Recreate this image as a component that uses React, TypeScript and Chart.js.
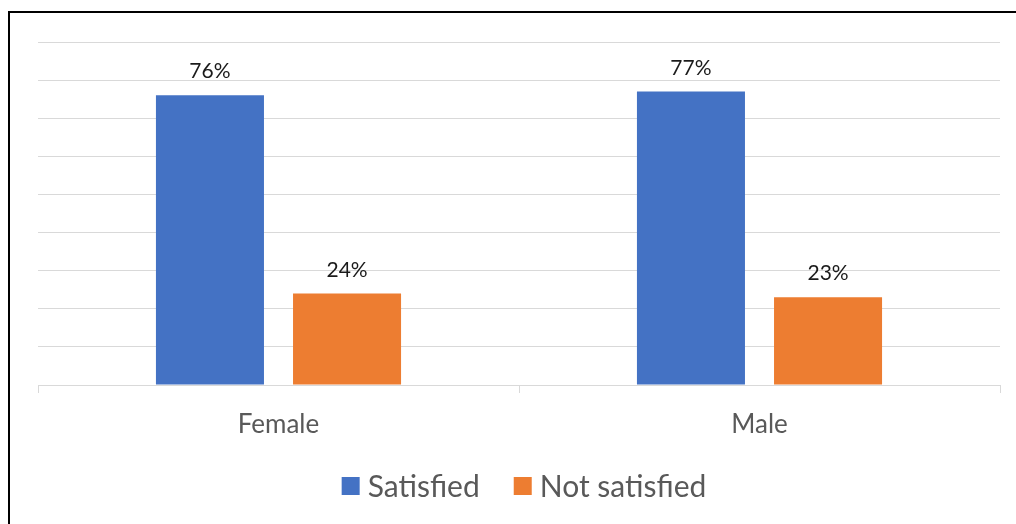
import React, { useEffect, useRef } from "react";
import { Chart, registerables } from "chart.js";

Chart.register(...registerables);

const categories = ["Female", "Male"];
const satisfied = [76, 77];
const notSatisfied = [24, 23];
const seriesNames = ["Satisfied", "Not satisfied"];
const seriesColors = ["#4472C4", "#ED7D31"];
const yMax = 90;
const yStep = 10;

const FONT = "Lato, 'Open Sans', sans-serif";

// Writes each bar's percentage just above its top
const valueLabels = {
  id: "valueLabels",
  afterDatasetsDraw(chart: any) {
    const { ctx } = chart;
    ctx.save();
    ctx.font = `21px ${FONT}`;
    ctx.fillStyle = "#1a1a1a";
    ctx.textAlign = "center";
    ctx.textBaseline = "alphabetic";
    chart.data.datasets.forEach((ds: any, i: number) => {
      const meta = chart.getDatasetMeta(i);
      meta.data.forEach((bar: any, j: number) => {
        ctx.fillText(`${ds.data[j]}%`, bar.x, bar.y - 17);
      });
    });
    ctx.restore();
  },
};

// Legend row under the category labels: square swatch followed by the series name
const bottomLegend = {
  id: "bottomLegend",
  afterDraw(chart: any) {
    const { ctx, chartArea } = chart;
    const box = 18;
    const textGap = 8;
    const itemGap = 34;
    ctx.save();
    ctx.font = `30px ${FONT}`;
    const items = chart.data.datasets.map((ds: any) => ({
      label: ds.label,
      color: ds.backgroundColor,
      w: ctx.measureText(ds.label).width,
    }));
    const total =
      items.reduce((s: number, it: any) => s + box + textGap + it.w, 0) +
      itemGap * (items.length - 1);
    const cx = (chartArea.left + chartArea.right) / 2 + 5;
    const cy = chartArea.bottom + 101;
    let x = cx - total / 2;
    ctx.textBaseline = "middle";
    ctx.textAlign = "left";
    items.forEach((it: any) => {
      ctx.fillStyle = it.color;
      ctx.fillRect(x, cy - box / 2, box, box);
      x += box + textGap;
      ctx.fillStyle = "#595959";
      ctx.fillText(it.label, x, cy + 1);
      x += it.w + itemGap;
    });
    ctx.restore();
  },
};

export default function App() {
  const canvasRef = useRef<HTMLCanvasElement | null>(null);

  useEffect(() => {
    if (!canvasRef.current) return;
    const chart = new Chart(canvasRef.current, {
      type: "bar",
      data: {
        labels: categories,
        datasets: [
          {
            label: seriesNames[0],
            data: satisfied,
            backgroundColor: seriesColors[0],
            categoryPercentage: 0.57,
            barPercentage: 0.788,
          },
          {
            label: seriesNames[1],
            data: notSatisfied,
            backgroundColor: seriesColors[1],
            categoryPercentage: 0.57,
            barPercentage: 0.788,
          },
        ],
      },
      options: {
        responsive: false,
        animation: false,
        layout: { padding: { left: 38, right: 16, top: 42, bottom: 89 } },
        plugins: {
          legend: { display: false },
          tooltip: { enabled: false },
        },
        scales: {
          x: {
            grid: {
              display: true,
              drawOnChartArea: false,
              drawTicks: true,
              tickLength: 8,
              color: "#d9d9d9",
              offset: true,
            },
            border: { display: true, color: "#d9d9d9", width: 1 },
            ticks: {
              color: "#595959",
              font: { family: FONT, size: 26 },
              padding: 16,
            },
            afterFit(scale: any) {
              scale.height = 50;
            },
          },
          y: {
            min: 0,
            max: yMax,
            ticks: { display: false, stepSize: yStep },
            grid: { color: "#d9d9d9", lineWidth: 1, drawTicks: false },
            border: { display: false },
          },
        },
      },
      plugins: [valueLabels, bottomLegend],
    });
    return () => chart.destroy();
  }, []);

  return (
    <div
      style={{
        position: "fixed",
        left: 0,
        top: 0,
        width: 1016,
        height: 524,
        overflow: "hidden",
        background: "#fff",
      }}
    >
      <canvas
        ref={canvasRef}
        width={1016}
        height={524}
        style={{ position: "absolute", left: 0, top: 0, width: 1016, height: 524 }}
      />
      <div
        style={{
          position: "absolute",
          left: 8,
          top: 11,
          width: 1100,
          height: 600,
          borderLeft: "2px solid #000",
          borderTop: "2px solid #000",
          pointerEvents: "none",
        }}
      />
    </div>
  );
}
